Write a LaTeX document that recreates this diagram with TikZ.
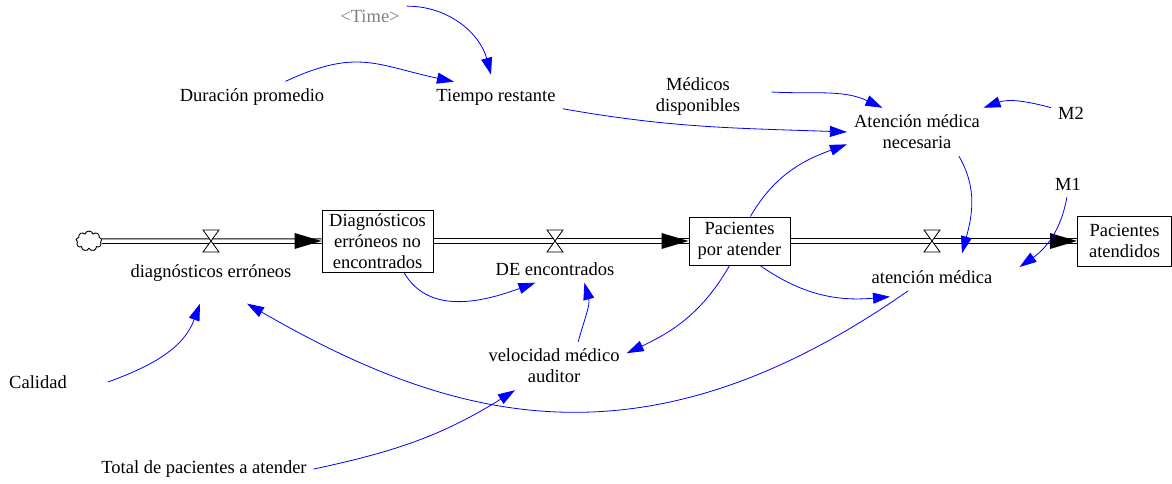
\documentclass[tikz,border=0pt]{standalone}
\usepackage{fontspec}
\setmainfont{Liberation Serif}
\usetikzlibrary{arrows.meta,shapes.symbols}

\tikzset{
  var/.style={font=\fontsize{18.5}{21}\selectfont, inner sep=7pt, align=center},
  stock/.style={draw, line width=1pt, font=\fontsize{18.5}{21}\selectfont, inner sep=2pt, align=center},
  link/.style={draw=blue, line width=0.8pt, -{Triangle[length=17pt,width=11pt]}},
  pipe/.style={draw=black, line width=1pt, double=white, double distance=3.5pt},
  valve/.style={draw=black, fill=white, line width=0.8pt},
  flowhead/.style={fill=black}
}

\begin{document}
\begin{tikzpicture}[x=1pt, y=1pt]
  \useasboundingbox (0,0) rectangle (1172,-484);

  % stocks and source
  \node[stock, minimum width=111pt, minimum height=62pt] (dne) at (377.5,-241) {Diagn\'osticos\\err\'oneos no\\encontrados};
  \node[stock, minimum width=101pt, minimum height=48pt] (pxa) at (739.5,-241) {Pacientes\\por atender};
  \node[stock, minimum width=94pt, minimum height=50pt] (pat) at (1124.5,-241) {Pacientes\\atendidos};
  \node[draw, line width=0.9pt, cloud, cloud puffs=9, aspect=1.3, minimum width=26pt, minimum height=20pt, inner sep=0pt] (src) at (89,-241) {};

  % valves
  \coordinate (vErr) at (211,-241);
  \coordinate (vEnc) at (555,-241);
  \coordinate (vAt) at (932,-241);

  % variables
  \node[var] (diagerr) at (211,-273) {diagn\'osticos err\'oneos};
  \node[var] (deenc) at (555,-269) {DE encontrados};
  \node[var] (atmed) at (932,-277) {atenci\'on m\'edica};
  \node[var, text=gray] (time) at (370,-16) {<Time>};
  \node[var] (durprom) at (252,-97) {Duraci\'on promedio};
  \node[var] (tiempo) at (496,-97) {Tiempo restante};
  \node[var] (medicos) at (698,-97) {M\'edicos\\disponibles};
  \node[var] (atnec) at (917,-132) {Atenci\'on m\'edica\\necesaria};
  \node[var] (m2) at (1071,-113) {M2};
  \node[var] (m1) at (1068,-184) {M1};
  \node[var] (calidad) at (38,-382) {Calidad};
  \node[var] (velaud) at (554,-366) {velocidad m\'edico\\auditor};
  \node[var] (total) at (204,-469) {Total de pacientes a atender};

  % flows
  \draw[pipe] (src.east) -- (dne.west);
  \draw[pipe] (dne.east) -- (pxa.west);
  \draw[pipe] (pxa.east) -- (pat.west);
  \fill[flowhead] ([shift={(-27,8)}]dne.west) -- (dne.west) -- ([shift={(-27,-8)}]dne.west) -- cycle;
  \fill[flowhead] ([shift={(-27,8)}]pxa.west) -- (pxa.west) -- ([shift={(-27,-8)}]pxa.west) -- cycle;
  \fill[flowhead] ([shift={(-27,8)}]pat.west) -- (pat.west) -- ([shift={(-27,-8)}]pat.west) -- cycle;
  \filldraw[valve] (vErr) +(-8,11) -- +(8,11) -- +(-8,-11) -- +(8,-11) -- cycle;
  \filldraw[valve] (vEnc) +(-8,11) -- +(8,11) -- +(-8,-11) -- +(8,-11) -- cycle;
  \filldraw[valve] (vAt) +(-8,11) -- +(8,11) -- +(-8,-11) -- +(8,-11) -- cycle;

  % links
  \draw[link] (time.15) to[out=0, in=105] ([shift={(-5,7)}]tiempo.north);
  \draw[link] (durprom.25) to[out=25, in=168, looseness=1.2] (tiempo.160);
  \draw[link] (tiempo.-10) to[out=-10, in=178] (atnec.180);
  \draw[link] ([shift={(24,5)}]medicos.east) to[out=-3, in=155] (atnec.145);
  \draw[link] (m2.165) to[out=165, in=20] (atnec.20);
  \draw[link] (atnec.-30) to[out=-60, in=75] ([shift={(30,10)}]atmed.north);
  \draw[link] (m1.-95) to[out=-100, in=35] ([shift={(20,10)}]atmed.east);
  \draw[link] (pxa.-50) to[out=-35, in=185] ([shift={(-42,-6)}]atmed.south);
  \draw[link] (pxa.66) to[out=60, in=200] (atnec.190);
  \draw[link] (pxa.-112) to[out=-120, in=25] (velaud.10);
  \draw[link] (atmed.210) .. controls +(-145:320) and +(-30:240) .. ([shift={(36,-15)}]diagerr.south);
  \draw[link] (dne.-50) to[out=-60, in=200] (deenc.215);
  \draw[link] (velaud.45) to[out=75, in=-75] (deenc.-25);
  \draw[link] ([xshift=34pt]calidad.east) to[out=20, in=250] ([shift={(-11,-15)}]diagerr.south);
  \draw[link] (total.east) to[out=12, in=212] ([xshift=-8pt]velaud.218);
\end{tikzpicture}
\end{document}
